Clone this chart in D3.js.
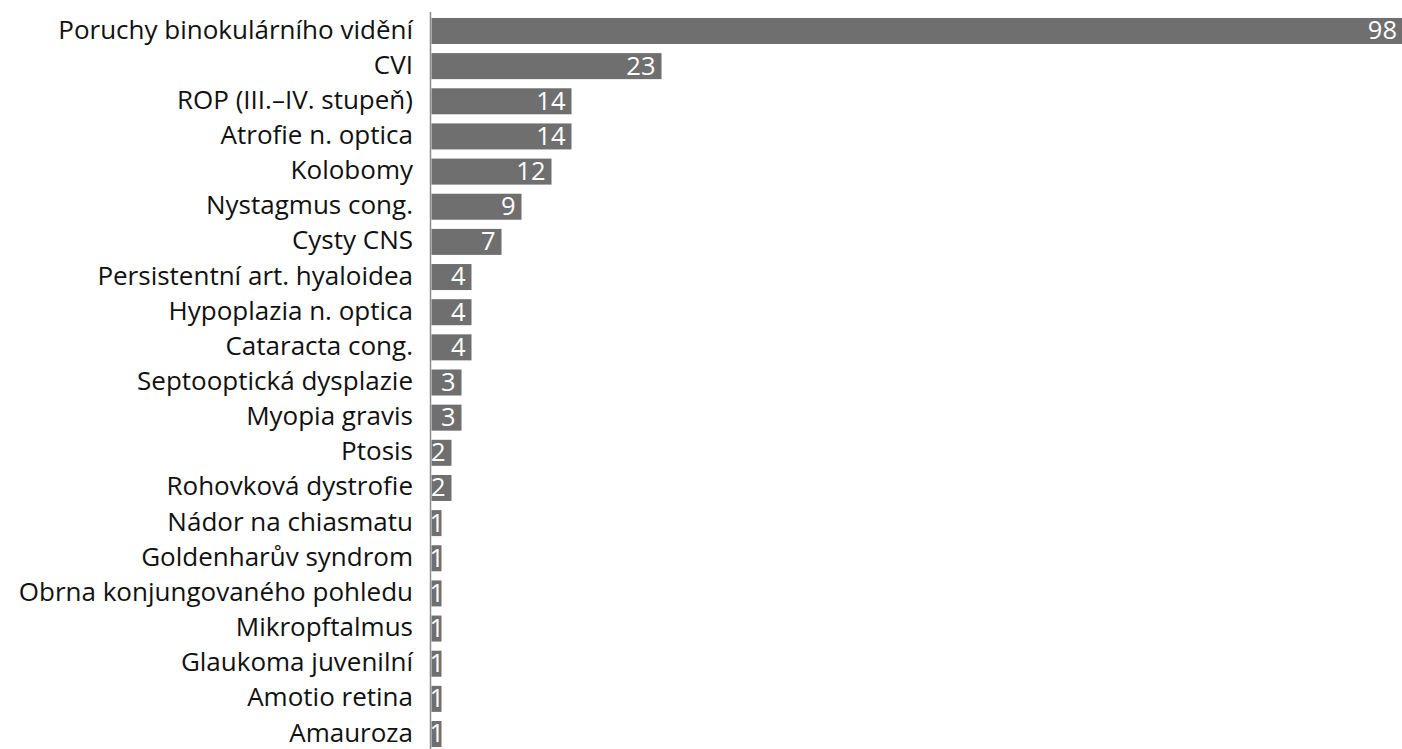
<!DOCTYPE html>
<html><head><meta charset="utf-8">
<script src="https://cdn.jsdelivr.net/npm/d3@7"></script>
<style>
html,body{margin:0;padding:0;background:#fff;overflow:hidden}
text{font-family:"Open Sans",sans-serif}
</style></head>
<body>
<svg id="chart" width="1402" height="749"></svg>
<script>
const categories = ["Poruchy binokulárního vidění","CVI","ROP (III.–IV. stupeň)","Atrofie n. optica","Kolobomy","Nystagmus cong.","Cysty CNS","Persistentní art. hyaloidea","Hypoplazia n. optica","Cataracta cong.","Septooptická dysplazie","Myopia gravis","Ptosis","Rohovková dystrofie","Nádor na chiasmatu","Goldenharův syndrom","Obrna konjungovaného pohledu","Mikropftalmus","Glaukoma juvenilní","Amotio retina","Amauroza"];
const values = [98,23,14,14,12,9,7,4,4,4,3,3,2,2,1,1,1,1,1,1,1];

const W = 1402, H = 749;
const svg = d3.select("#chart");
const x = d3.scaleLinear().domain([0, 98]).range([431.5, 1411.5]);
const y = d3.scaleBand().domain(categories).range([13.4, 751.6]).paddingInner(0.26).paddingOuter(0.13);

svg.append("g").selectAll("rect").data(values).join("rect")
  .attr("x", x(0)).attr("y", (d,i)=>y(categories[i]))
  .attr("width", d=>x(d)-x(0)).attr("height", y.bandwidth())
  .attr("fill", "#6f6f6f");

svg.append("line").attr("x1",430.5).attr("x2",430.5).attr("y1",12).attr("y2",H)
  .attr("stroke","#8a8a8a").attr("stroke-width",1.5);

svg.append("g").selectAll("text").data(categories).join("text")
  .attr("x", 413).attr("y", d=>y(d)+y.bandwidth()/2)
  .attr("dy","0.29em").attr("text-anchor","end")
  .attr("font-size","26px").attr("fill","#111").text(d=>d);

const vl = svg.append("g").selectAll("text").data(values).join("text")
  .attr("y", (d,i)=>y(categories[i])+y.bandwidth()/2)
  .attr("dy","0.33em").attr("text-anchor","end")
  .attr("font-size","25.5px").attr("fill","#fff").text(d=>d);
vl.each(function(d){
  const w = this.getComputedTextLength();
  let xr = Math.min(x(d) - 6, W - 5);
  xr = Math.max(xr, x(0) + w - 2);
  d3.select(this).attr("x", xr);
});
</script>
</body></html>
